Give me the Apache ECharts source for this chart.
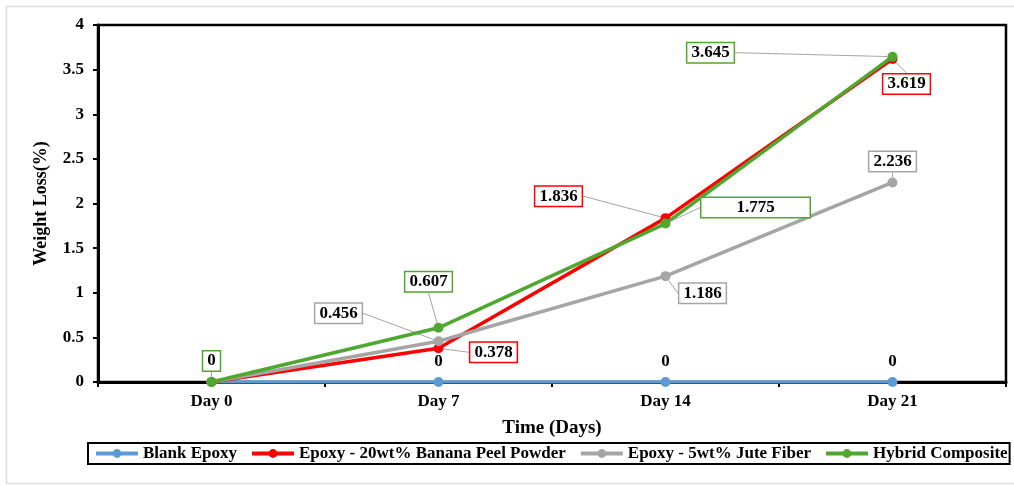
<!DOCTYPE html>
<html>
<head>
<meta charset="utf-8">
<script src="https://cdn.jsdelivr.net/npm/echarts@6/dist/echarts.min.js"></script>
<style>
  html, body { margin: 0; padding: 0; background: #fff; }
  #chart { width: 1014px; height: 486px; }
</style>
</head>
<body>
<div id="chart"></div>
<script>
// Weight loss (%) over immersion time for four epoxy formulations
const categories = ['Day 0', 'Day 7', 'Day 14', 'Day 21'];
const blankEpoxy = [0, 0, 0, 0];
const bananaPeel = [0, 0.378, 1.836, 3.619];
const juteFiber = [0, 0.456, 1.186, 2.236];
const hybrid = [0, 0.607, 1.775, 3.645];
const seriesNames = ['Blank Epoxy', 'Epoxy - 20wt% Banana Peel Powder', 'Epoxy - 5wt% Jute Fiber', 'Hybrid Composite'];

const colors = ['#5B9BD5', '#FF0000', '#A5A5A5', '#4EA72E'];
const FONT = '"Liberation Serif", "Times New Roman", serif';

// Label offsets (dx, dy) from each point, per series; null hides the label
const labelOffsets = [
  [null, [0, -20], [0, -20], [0, -20]],
  [null, [55, 4], [-107, -22], [14, 25]],
  [null, [-100, -28], [37, 17], [0, -21]],
  [[0, -21], [-10, -46], [90, -16], [-182, -4]]
];
const labelWidths = [
  [null, null, null, null],
  [null, null, null, null],
  [null, null, null, null],
  [null, null, 100, null]
];

function buildSeries(idx, values) {
  const boxed = idx !== 0;
  return {
    name: seriesNames[idx],
    type: 'line',
    data: values.map((v, i) => {
      const off = labelOffsets[idx][i];
      const item = { value: v };
      if (!off) {
        item.label = { show: false };
      } else if (labelWidths[idx][i]) {
        item.label = { width: labelWidths[idx][i] };
      }
      return item;
    }),
    symbol: 'circle',
    symbolSize: 10,
    lineStyle: { width: 3.5, color: colors[idx] },
    itemStyle: { color: colors[idx] },
    z: 2 + idx,
    label: {
      show: true,
      position: 'inside',
      formatter: p => String(p.value),
      fontFamily: FONT,
      fontWeight: 'bold',
      fontSize: 17,
      color: '#000',
      align: 'center',
      backgroundColor: boxed ? '#fff' : 'transparent',
      borderColor: boxed ? colors[idx] : 'transparent',
      borderWidth: boxed ? 1.5 : 0,
      padding: boxed ? [2, 4, 0, 4] : 0
    },
    labelLine: {
      show: boxed,
      lineStyle: { color: '#A5A5A5', width: 1 }
    },
    labelLayout: p => {
      const off = labelOffsets[idx][p.dataIndex];
      return off ? { dx: off[0], dy: off[1] } : {};
    }
  };
}

const chart = echarts.init(document.getElementById('chart'), null, { renderer: 'canvas' });
chart.setOption({
  backgroundColor: '#fff',
  animation: false,
  graphic: [{
    type: 'rect',
    shape: { x: 6.5, y: 6.5, width: 1030, height: 477 },
    style: { fill: 'none', stroke: '#dcdcdc', lineWidth: 1.5 },
    silent: true,
    z: -10
  }],
  grid: {
    left: 98, right: 8, top: 25, bottom: 104,
    show: true,
    borderColor: '#000',
    borderWidth: 2.5,
    backgroundColor: 'transparent'
  },
  legend: {
    top: 443,
    left: 88,
    padding: [2, 2, 2, 6],
    borderColor: '#000',
    borderWidth: 2,
    itemGap: 13,
    itemWidth: 42,
    itemHeight: 11,
    lineStyle: { width: 4 },
    textStyle: { fontFamily: FONT, fontWeight: 'bold', fontSize: 17, color: '#000' },
    data: seriesNames
  },
  xAxis: {
    type: 'category',
    data: categories,
    boundaryGap: true,
    name: 'Time (Days)',
    nameLocation: 'middle',
    nameGap: 37,
    nameTextStyle: { fontFamily: FONT, fontWeight: 'bold', fontSize: 19, color: '#000' },
    axisLine: { lineStyle: { color: '#000', width: 3 } },
    axisTick: { show: true, length: 5, lineStyle: { color: '#000', width: 2 } },
    axisLabel: { fontFamily: FONT, fontWeight: 'bold', fontSize: 17, color: '#000', margin: 11 }
  },
  yAxis: {
    type: 'value',
    min: 0, max: 4, interval: 0.5,
    name: 'Weight Loss(%)',
    nameLocation: 'middle',
    nameGap: 48,
    nameRotate: 90,
    nameTextStyle: { fontFamily: FONT, fontWeight: 'bold', fontSize: 18, color: '#000' },
    axisLine: { show: true, lineStyle: { color: '#000', width: 3 } },
    axisTick: { show: true, length: 5, lineStyle: { color: '#000', width: 2 } },
    splitLine: { show: false },
    axisLabel: { fontFamily: FONT, fontWeight: 'bold', fontSize: 17, color: '#000', margin: 14 }
  },
  series: [
    buildSeries(0, blankEpoxy),
    buildSeries(1, bananaPeel),
    buildSeries(2, juteFiber),
    buildSeries(3, hybrid)
  ]
});
</script>
</body>
</html>
